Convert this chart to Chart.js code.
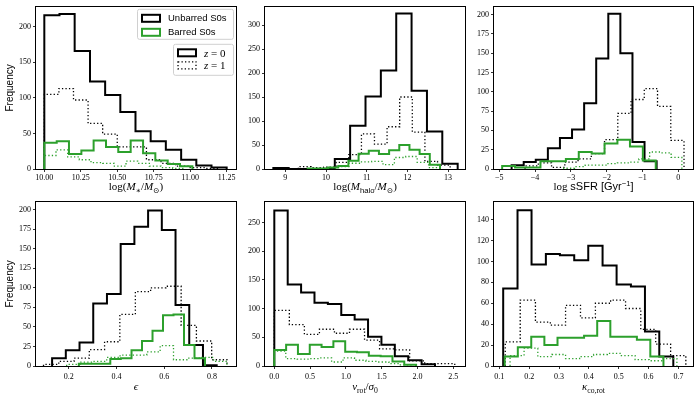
<!DOCTYPE html>
<html><head><meta charset="utf-8">
<script src="https://cdn.jsdelivr.net/npm/chart.js@4.4.0/dist/chart.umd.min.js"></script>
<style>
html,body{margin:0;padding:0;background:#fff;}
#wrap{position:relative;width:699px;height:397px;overflow:hidden;background:#fff;}
canvas{position:absolute;}
</style></head><body><div id="wrap"></div>
<script>
// ---------------- DATA (bin edges + counts) ----------------
// Panel 1: log(M*/Msun)
const massEdgesUnbarredZ0 = [10.000,10.104,10.208,10.313,10.417,10.521,10.625,10.729,10.833,10.938,11.042,11.146,11.250];
const massCountsUnbarredZ0 = [216,218,166,123,104,80,53,39,27,13,5,2];
const massEdgesUnbarredZ1 = [10.00,10.10,10.20,10.30,10.40,10.50,10.60,10.70,10.80,10.90,11.00,11.10,11.20];
const massCountsUnbarredZ1 = [105,113,97,64,49,31,31,13,8,4,2,1];
const massEdgesBarredZ0 = [10.000,10.085,10.169,10.254,10.338,10.423,10.507,10.592,10.677,10.761,10.846,10.930,11.015];
const massCountsBarredZ0 = [37,39,21,26,40,31,24,40,22,12,7,4];
const massEdgesBarredZ1 = [10.00,10.08,10.16,10.24,10.32,10.40,10.48,10.56,10.64,10.72,10.80,10.88,10.96];
const massCountsBarredZ1 = [19,27,17,13,9,8,4,11,8,4,2,1];
const massXTicks = [10.00,10.25,10.50,10.75,11.00,11.25];
const massXTickLabels = ['10.00','10.25','10.50','10.75','11.00','11.25'];
const massYTicks = [0,50,100,150,200];

// Panel 2: log(Mhalo/Msun)
const haloEdgesUnbarredZ0 = [8.705,9.082,9.460,9.837,10.215,10.592,10.970,11.347,11.725,12.102,12.480,12.857,13.235];
const haloCountsUnbarredZ0 = [2,0,0,0,21,90,151,205,324,163,78,11];
const haloEdgesUnbarredZ1 = [9.32,9.63,9.94,10.25,10.56,10.87,11.19,11.50,11.81,12.12,12.43,12.74,13.05];
const haloCountsUnbarredZ1 = [5,3,4,14,30,73,52,88,150,77,16,8];
const haloEdgesBarredZ0 = [9.55,9.80,10.05,10.30,10.55,10.80,11.05,11.30,11.55,11.80,12.05,12.30,12.55,12.80];
const haloCountsBarredZ0 = [1,1,3,6,17,32,38,31,39,50,40,31,9];
const haloEdgesBarredZ1 = [10.00,10.28,10.56,10.84,11.12,11.40,11.68,11.96,12.24,12.52,12.80];
const haloCountsBarredZ1 = [3,5,12,15,16,9,24,26,14,3];
const haloXTicks = [9,10,11,12,13];
const haloXTickLabels = ['9','10','11','12','13'];
const haloYTicks = [0,50,100,150,200,250,300];

// Panel 3: log sSFR
const ssfrEdgesUnbarredZ0 = [-4.656,-4.318,-3.981,-3.643,-3.306,-2.968,-2.630,-2.293,-1.955,-1.618,-1.280,-0.943,-0.605];
const ssfrCountsUnbarredZ0 = [5,9,12,27,40,51,85,143,201,150,35,10];
const ssfrEdgesUnbarredZ1 = [-4.28,-3.91,-3.54,-3.17,-2.80,-2.43,-2.06,-1.69,-1.32,-0.95,-0.58,-0.21,0.16];
const ssfrCountsUnbarredZ1 = [4,8,2,9,13,20,38,72,90,104,81,37];
const ssfrEdgesBarredZ0 = [-4.92,-4.56,-4.21,-3.85,-3.49,-3.14,-2.78,-2.42,-2.06,-1.70,-1.35,-0.99,-0.63];
const ssfrCountsBarredZ0 = [4,2,2,10,10,13,22,20,33,38,29,11];
const ssfrEdgesBarredZ1 = [-3.20,-2.90,-2.60,-2.30,-2.00,-1.70,-1.40,-1.10,-0.80,-0.50,-0.20,0.10];
const ssfrCountsBarredZ1 = [1,3,5,5,7,8,9,13,22,21,15];
const ssfrXTicks = [-5,-4,-3,-2,-1,0];
const ssfrXTickLabels = ['\u22125','\u22124','\u22123','\u22122','\u22121','0'];
const ssfrYTicks = [0,25,50,75,100,125,150,175,200];

// Panel 4: ellipticity
const ellEdgesUnbarredZ0 = [0.130,0.1875,0.245,0.3025,0.360,0.4175,0.475,0.5325,0.590,0.6475,0.705,0.7625,0.820];
const ellCountsUnbarredZ0 = [10,20,30,80,92,156,178,199,174,78,27,1];
const ellEdgesUnbarredZ1 = [0.094,0.158,0.222,0.286,0.350,0.414,0.479,0.543,0.607,0.671,0.735,0.799,0.863];
const ellCountsUnbarredZ1 = [2,6,10,21,31,66,95,100,102,52,32,8];
const ellEdgesBarredZ0 = [0.242,0.286,0.330,0.374,0.418,0.463,0.507,0.551,0.595,0.639,0.683,0.727,0.771];
const ellCountsBarredZ0 = [3,3,3,9,10,20,32,45,65,66,27,10];
const ellEdgesBarredZ1 = [0.191,0.247,0.303,0.359,0.415,0.471,0.527,0.583,0.639,0.695,0.751,0.807,0.863];
const ellCountsBarredZ1 = [2,5,6,11,14,14,18,26,8,10,11,6];
const ellXTicks = [0.2,0.4,0.6,0.8];
const ellXTickLabels = ['0.2','0.4','0.6','0.8'];
const ellYTicks = [0,25,50,75,100,125,150,175,200];

// Panel 5: v_rot / sigma_0
const vrotEdgesUnbarredZ0 = [0,0.187,0.374,0.561,0.748,0.935,1.122,1.309,1.496,1.683,1.870,2.057,2.244];
const vrotCountsUnbarredZ0 = [271,142,128,110,108,89,81,51,37,17,10,3];
const vrotEdgesUnbarredZ1 = [0,0.21,0.42,0.63,0.84,1.05,1.26,1.47,1.68,1.89,2.10,2.31,2.52];
const vrotCountsUnbarredZ1 = [97,72,55,64,57,64,45,30,28,9,4,4];
const vrotEdgesBarredZ0 = [0,0.165,0.330,0.495,0.660,0.825,0.990,1.155,1.320,1.485,1.650,1.815,1.980];
const vrotCountsBarredZ0 = [28,37,21,37,33,43,25,24,18,17,8,2];
const vrotEdgesBarredZ1 = [0,0.16,0.32,0.48,0.64,0.80,0.96,1.12,1.28,1.44,1.60,1.76,1.92];
const vrotCountsBarredZ1 = [26,13,12,13,14,7,14,10,8,7,4,2];
const vrotXTicks = [0,0.5,1.0,1.5,2.0,2.5];
const vrotXTickLabels = ['0.0','0.5','1.0','1.5','2.0','2.5'];
const vrotYTicks = [0,50,100,150,200,250];

// Panel 6: kappa_co,rot
const kapEdgesUnbarredZ0 = [0.113,0.161,0.208,0.256,0.303,0.351,0.398,0.446,0.493,0.541,0.588,0.636,0.683];
const kapCountsUnbarredZ0 = [74,149,97,107,106,101,115,96,78,76,33,9];
const kapEdgesUnbarredZ1 = [0.120,0.170,0.221,0.271,0.322,0.372,0.422,0.473,0.523,0.574,0.624,0.674,0.725];
const kapCountsUnbarredZ1 = [23,63,42,39,58,46,60,63,55,35,21,10];
const kapEdgesBarredZ0 = [0.118,0.162,0.207,0.251,0.295,0.340,0.384,0.428,0.472,0.517,0.561,0.606,0.650];
const kapCountsBarredZ0 = [9,18,28,20,27,27,29,43,28,28,25,9];
const kapEdgesBarredZ1 = [0.136,0.183,0.229,0.276,0.322,0.369,0.416,0.462,0.509,0.555,0.602,0.649,0.695];
const kapCountsBarredZ1 = [10,17,9,11,7,9,11,12,10,6,5,7];
const kapXTicks = [0.1,0.2,0.3,0.4,0.5,0.6,0.7];
const kapXTickLabels = ['0.1','0.2','0.3','0.4','0.5','0.6','0.7'];
const kapYTicks = [0,20,40,60,80,100,120,140];

const legendSamples = ['Unbarred S0s','Barred S0s'];
const legendRedshifts = ['0','1'];

// ---------------- STYLE ----------------
const SERIF = "'Liberation Serif','DejaVu Serif',serif";
const SANS = "'Liberation Sans','DejaVu Sans',sans-serif";
const GREEN = '#2ca02c';
const ST = {
  ub0:{color:'#000', width:2, dash:[]},
  ub1:{color:'#000', width:1.3, dash:[1.3,2.2]},
  b0:{color:GREEN, width:2, dash:[]},
  b1:{color:GREEN, width:1.3, dash:[1.3,2.2]}
};

function stepData(edges, counts){
  const pts = [{x:edges[0], y:0}];
  counts.forEach((c,i)=>pts.push({x:edges[i], y:c}));
  pts.push({x:edges[counts.length], y:0});
  return pts;
}

function drawRich(ctx, segs, cx, by, size){
  const sm = (size*0.7).toFixed(1);
  const fonts = {r:`${size}px ${SERIF}`, i:`italic ${size}px ${SERIF}`, s:`${size}px ${SANS}`,
    sub:`${sm}px ${SERIF}`, subs:`${sm}px ${SANS}`, sups:`${sm}px ${SANS}`};
  const dy = {r:0,i:0,s:0,sub:size*0.25,subs:size*0.25,sups:-size*0.4};
  let total = 0;
  const ws = segs.map(([t,k])=>{ctx.font=fonts[k]; const w=ctx.measureText(t).width; total+=w; return w;});
  let x = cx - total/2;
  ctx.save(); ctx.fillStyle='#000'; ctx.textBaseline='alphabetic'; ctx.textAlign='left';
  segs.forEach(([t,k],j)=>{ctx.font=fonts[k]; ctx.fillText(t, x, by+dy[k]); x+=ws[j];});
  ctx.restore();
}

const framePlugin = {id:'frame', afterDatasetsDraw(chart){
  const {ctx, chartArea:a} = chart;
  ctx.save(); ctx.strokeStyle='#000'; ctx.lineWidth=1;
  ctx.strokeRect(Math.round(a.left)-0.5, Math.round(a.top)-0.5, Math.round(a.right-a.left)+1, Math.round(a.bottom-a.top)+1);
  ctx.restore();
}};

function patch(ctx, x, y, w, h, st){
  ctx.save(); ctx.strokeStyle=st.color; ctx.lineWidth=st.width; ctx.setLineDash(st.dash);
  ctx.lineJoin='miter'; ctx.strokeRect(x, y, w, h); ctx.restore();
}
function box(ctx, x, y, w, h){
  ctx.save(); ctx.beginPath();
  if (ctx.roundRect) ctx.roundRect(x+0.5, y+0.5, w, h, 2); else ctx.rect(x+0.5,y+0.5,w,h);
  ctx.fillStyle='rgba(255,255,255,0.8)'; ctx.fill();
  ctx.strokeStyle='#d0d0d0'; ctx.lineWidth=1; ctx.stroke(); ctx.restore();
}
function drawRichLeft(ctx, segs, x, by, size){
  const fonts = {r:`${size}px ${SERIF}`, i:`italic ${size}px ${SERIF}`};
  ctx.save(); ctx.fillStyle='#000'; ctx.textBaseline='alphabetic';
  segs.forEach(([t,k])=>{ctx.font=fonts[k]; ctx.fillText(t,x,by); x+=ctx.measureText(t).width;});
  ctx.restore();
}
const legendPlugin = {id:'legends', afterDraw(chart){
  const {ctx, chartArea:a} = chart;
  const b1x = a.right-99, b1y = a.top+2;
  box(ctx, b1x, b1y, 96, 30);
  patch(ctx, b1x+5, b1y+6, 18, 7, ST.ub0);
  patch(ctx, b1x+5, b1y+20, 18, 7, ST.b0);
  ctx.save(); ctx.fillStyle='#000'; ctx.font=`9.5px ${SANS}`; ctx.textBaseline='middle';
  ctx.fillText(legendSamples[0], b1x+31, b1y+9.5);
  ctx.fillText(legendSamples[1], b1x+31, b1y+23.5);
  ctx.restore();
  const b2x = a.right-63, b2y = a.top+37;
  box(ctx, b2x, b2y, 60, 31);
  patch(ctx, b2x+5, b2y+5.5, 18, 7, ST.ub0);
  patch(ctx, b2x+5, b2y+18, 18, 7, ST.ub1);
  [0,1].forEach(k=>{
    const yy = b2y + (k===0?13:25.5);
    drawRichLeft(ctx, [['z','i'],[' = '+legendRedshifts[k],'r']], b2x+31, yy, 11);
  });
}};

const panels = [
  {left:0, top:0, w:200, h:200, xMin:9.943, xMax:11.314, yMax:228, xT:massXTicks, xL:massXTickLabels, yT:massYTicks, ylabel:true, legend:true,
   label:[['log(','r'],['M','i'],['\u2217','sub'],['/','r'],['M','i'],['\u2299','sub'],[')','r']],
   ser:[[massEdgesBarredZ1,massCountsBarredZ1,'b1'],[massEdgesBarredZ0,massCountsBarredZ0,'b0'],[massEdgesUnbarredZ1,massCountsUnbarredZ1,'ub1'],[massEdgesUnbarredZ0,massCountsUnbarredZ0,'ub0']]},
  {left:229, top:0, w:200, h:200, xMin:8.50, xMax:13.415, yMax:338, xT:haloXTicks, xL:haloXTickLabels, yT:haloYTicks,
   label:[['log(','r'],['M','i'],['halo','subs'],['/','r'],['M','i'],['\u2299','sub'],[')','r']],
   ser:[[haloEdgesBarredZ1,haloCountsBarredZ1,'b1'],[haloEdgesBarredZ0,haloCountsBarredZ0,'b0'],[haloEdgesUnbarredZ1,haloCountsUnbarredZ1,'ub1'],[haloEdgesUnbarredZ0,haloCountsUnbarredZ0,'ub0']]},
  {left:458, top:0, w:199, h:200, xMin:-5.148, xMax:0.411, yMax:210, xT:ssfrXTicks, xL:ssfrXTickLabels, yT:ssfrYTicks,
   label:[['log ','r'],['sSFR [Gyr','s'],['\u22121','sups'],[']','s']],
   ser:[[ssfrEdgesBarredZ1,ssfrCountsBarredZ1,'b1'],[ssfrEdgesBarredZ0,ssfrCountsBarredZ0,'b0'],[ssfrEdgesUnbarredZ1,ssfrCountsUnbarredZ1,'ub1'],[ssfrEdgesUnbarredZ0,ssfrCountsUnbarredZ0,'ub0']]},
  {left:0, top:195, w:200, h:202, xMin:0.0625, xMax:0.901, yMax:210, xT:ellXTicks, xL:ellXTickLabels, yT:ellYTicks, ylabel:true,
   label:[['\u03f5','i']],
   ser:[[ellEdgesBarredZ1,ellCountsBarredZ1,'b1'],[ellEdgesBarredZ0,ellCountsBarredZ0,'b0'],[ellEdgesUnbarredZ1,ellCountsUnbarredZ1,'ub1'],[ellEdgesUnbarredZ0,ellCountsUnbarredZ0,'ub0']]},
  {left:229, top:195, w:200, h:202, xMin:-0.13, xMax:2.663, yMax:286, xT:vrotXTicks, xL:vrotXTickLabels, yT:vrotYTicks,
   label:[['v','i'],['rot','sub'],['/','r'],['\u03c3','i'],['0','sub']],
   ser:[[vrotEdgesBarredZ1,vrotCountsBarredZ1,'b1'],[vrotEdgesBarredZ0,vrotCountsBarredZ0,'b0'],[vrotEdgesUnbarredZ1,vrotCountsUnbarredZ1,'ub1'],[vrotEdgesUnbarredZ0,vrotCountsUnbarredZ0,'ub0']]},
  {left:458, top:195, w:199, h:202, xMin:0.0822, xMax:0.749, yMax:157, xT:kapXTicks, xL:kapXTickLabels, yT:kapYTicks,
   label:[['\u03ba','i'],['co,rot','sub']],
   ser:[[kapEdgesBarredZ1,kapCountsBarredZ1,'b1'],[kapEdgesBarredZ0,kapCountsBarredZ0,'b0'],[kapEdgesUnbarredZ1,kapCountsUnbarredZ1,'ub1'],[kapEdgesUnbarredZ0,kapCountsUnbarredZ0,'ub0']]}
];

const wrap = document.getElementById('wrap');
panels.forEach(p=>{
  const bottomRow = p.top > 0;
  const cv = document.createElement('canvas');
  const cw = 36 + p.w + 3, ch = p.h;
  cv.width = cw; cv.height = ch;
  cv.style.left = p.left+'px'; cv.style.top = p.top+'px';
  cv.style.width = cw+'px'; cv.style.height = ch+'px';
  wrap.appendChild(cv);
  const grid = {display:true, drawOnChartArea:false, drawTicks:true, tickLength:3, color:'#000', lineWidth:0.8};
  const labelPlugin = {id:'xlab', afterDraw(chart){
    const a = chart.chartArea;
    drawRich(chart.ctx, p.label, (a.left+a.right)/2, a.bottom + (bottomRow ? 24 : 21), 11);
  }};
  const plugins = [framePlugin, labelPlugin];
  if (p.legend) plugins.push(legendPlugin);
  new Chart(cv.getContext('2d'), {
    type:'line',
    data:{datasets: p.ser.map(([e,c,k])=>({
      data: stepData(e,c), borderColor: ST[k].color, borderWidth: ST[k].width, borderDash: ST[k].dash,
      pointRadius:0, pointHoverRadius:0, stepped:'before', fill:false, tension:0,
      borderJoinStyle:'miter', borderCapStyle:'butt'
    }))},
    options:{
      responsive:false, animation:false, devicePixelRatio:1, events:[],
      layout:{padding:{left:0, right:3, top:6, bottom:0}},
      plugins:{legend:{display:false}, tooltip:{enabled:false}},
      scales:{
        x:{type:'linear', min:p.xMin, max:p.xMax,
           afterBuildTicks:s=>{s.ticks = p.xT.map(v=>({value:v}));},
           afterFit:s=>{s.height = 31;},
           ticks:{callback:(v,i)=>p.xL[i], font:{family:SERIF, size:8}, color:'#000', padding: bottomRow ? 3 : 1.5, maxRotation:0, autoSkip:false},
           grid:grid, border:{display:false}},
        y:{type:'linear', min:0, max:p.yMax,
           afterBuildTicks:s=>{s.ticks = p.yT.map(v=>({value:v}));},
           afterFit:s=>{s.width = 36;},
           ticks:{callback:(v)=>String(v), font:{family:SERIF, size:8}, color:'#000', padding:2, autoSkip:false},
           grid:grid, border:{display:false},
           title: p.ylabel ? {display:true, text:'Frequency', color:'#000', font:{family:SANS, size:10}, padding:{top:4, bottom:0}} : {display:false}}
      }
    },
    plugins: plugins
  });
});
</script>
</body></html>
